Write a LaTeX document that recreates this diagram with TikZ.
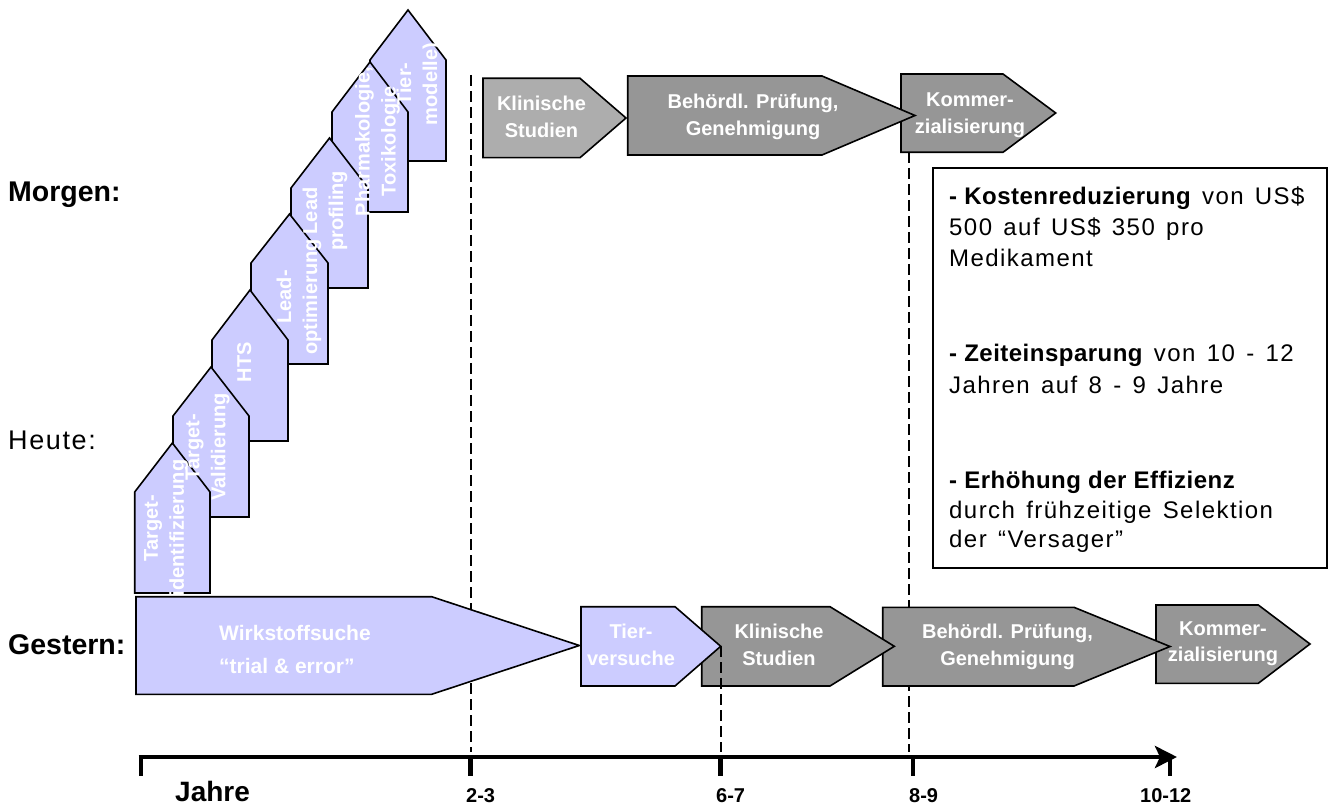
\documentclass[tikz,border=0pt]{standalone}
\usepackage{fontspec}
\setmainfont{Liberation Sans}
\newfontfamily\spacedsans[LetterSpace=6,WordSpace=1.4]{Liberation Sans}
\newfontfamily\lightspaced[LetterSpace=2]{Liberation Sans}
\usetikzlibrary{arrows.meta}

\definecolor{lilac}{HTML}{CCCCFF}
\definecolor{darkgrey}{HTML}{969696}
\definecolor{lightgrey}{HTML}{ADADAD}

\tikzset{
  outline/.style={draw=black, line width=1.6pt, line join=miter},
  bluearrow/.style={outline, fill=lilac},
  greyarrow/.style={outline, fill=darkgrey},
  palearrow/.style={outline, fill=lightgrey},
  vlabel/.style={rotate=90, align=center, text=white, inner sep=0pt,
    font=\fontsize{20}{26}\selectfont\bfseries},
  hlabel/.style={align=center, text=white, inner sep=0pt,
    font=\fontsize{20}{26.7}\selectfont\bfseries},
  guide/.style={black, line width=2pt, dash pattern=on 11pt off 5pt},
  rowlabel/.style={anchor=west, inner sep=0pt,
    font=\fontsize{28.5}{32}\selectfont\bfseries},
  ticklabel/.style={anchor=base west, inner sep=0pt,
    font=\fontsize{20}{24}\selectfont\bfseries},
  boxline/.style={anchor=base west, inner sep=0pt,
    font=\spacedsans\fontsize{24}{30}\selectfont},
  axisline/.style={black, line width=4.5pt},
}

\newcommand\houseshape[5]{%
  \path[bluearrow] (#1,#5) -- (#1,#4) -- ({(#1+#2)/2},#3) -- (#2,#4) -- (#2,#5) -- cycle;}
\newcommand\chevronshape[7]{%
  \path[#1] (#2,#3) -- (#5,#3) -- (#6,#7) -- (#5,#4) -- (#2,#4) -- cycle;}
\newcommand\bb[1]{{\lightspaced\bfseries #1}}

\begin{document}
\begin{tikzpicture}[x=1pt,y=-1pt]
\useasboundingbox (0,0) rectangle (1334,810);
\fill[white] (0,0) rectangle (1334,810);

% dashed guide lines behind the shapes
\coordinate (g1top) at (470.5,75);
\coordinate (g1bot) at (470.5,752);
\coordinate (g3top) at (908.5,152);
\coordinate (g3bot) at (908.5,752);
\draw[guide] (g1top) -- (g1bot);
\draw[guide] (g3top) -- (g3bot);

% "Morgen" staircase of upward arrows
\houseshape{370}{446}{10}{60}{161}
\houseshape{332}{408}{62}{112}{212}
\houseshape{291}{368}{138}{188}{288}
\houseshape{251}{328}{214}{263}{364}
\houseshape{212}{288}{290}{340}{441}
\houseshape{173}{249}{367}{416}{517}
\houseshape{134.7}{210}{443}{492}{593}

\node[vlabel] (tiermod) at (419,84) {Tier-\\modelle)};
\node[vlabel] (pharma) at (377.5,141.7) {Pharmakologie,\\Toxikologie};
\node[vlabel] (leadprof) at (325,211) {Lead\\profiling};
\node[vlabel] (leadopt) at (299,297) {Lead-\\optimierung};
\node[vlabel] (hts) at (244.3,362) {HTS};
\node[vlabel] (tval) at (207.5,447) {Target-\\Validierung};
\node[vlabel] (tident) at (166,528) {Target-\\identifizierung};

% top row (Morgen)
\chevronshape{greyarrow}{901}{74}{152.3}{1003}{1055.7}{113}
\chevronshape{palearrow}{483}{78.3}{157.7}{580}{626}{118}
\chevronshape{greyarrow}{627.7}{76}{155}{822}{915}{115.5}

\node[hlabel] (klin1) at (541.5,117) {Klinische\\Studien};
\node[hlabel] (beh1) at (753,117) {Behördl. Prüfung,\\Genehmigung};
\node[hlabel] (kom1) at (970,115) {Kommer-\\zialisierung};

% bottom row (Gestern)
\chevronshape{bluearrow}{136}{596.7}{694.3}{431.7}{579.3}{645.5}
\chevronshape{greyarrow}{1156}{605}{683.3}{1258.3}{1310}{644}
\chevronshape{greyarrow}{882.7}{607.3}{686}{1074}{1170}{646.5}
\chevronshape{greyarrow}{701.7}{606.7}{686}{830}{894.3}{646.3}
\chevronshape{bluearrow}{581}{606.7}{686}{675}{720.7}{646.3}

\node[hlabel, align=left, anchor=west, font=\fontsize{21}{33}\selectfont\bfseries]
  (wirk) at (219,649) {Wirkstoffsuche\\“trial \& error”};
\node[hlabel] (tier) at (631,645) {Tier-\\versuche};
\node[hlabel] (klin2) at (779,645) {Klinische\\Studien};
\node[hlabel] (beh2) at (1007.5,647) {Behördl. Prüfung,\\Genehmigung};
\node[hlabel] (kom2) at (1223,643.7) {Kommer-\\zialisierung};

% dashed guide on top of the Klinische box
\coordinate (g2top) at (720.5,646.3);
\coordinate (g2bot) at (720.5,752);
\draw[guide] (g2top) -- (g2bot);

% time axis
\coordinate (axstart) at (138.7,757);
\coordinate (axend) at (1177,757);
\draw[axisline, -{Stealth[length=22pt,width=22pt,inset=5pt]}] (axstart) -- (axend);
\foreach \tx in {140.9,470.5,720.6,913,1170}
  \draw[axisline] (\tx,755) -- (\tx,776);

\node[anchor=base west, inner sep=0pt, font=\fontsize{28}{32}\selectfont\bfseries]
  (jahre) at (175,801.5) {Jahre};
\node[ticklabel] (t23) at (466,802) {2-3};
\node[ticklabel] (t67) at (716,802) {6-7};
\node[ticklabel] (t89) at (909,802) {8-9};
\node[ticklabel] (t1012) at (1140,802) {10-12};

% benefits box
\node[draw=black, line width=2pt, fill=white, anchor=north west, inner sep=0pt,
  minimum width=394pt, minimum height=399.5pt] (benefits) at (931.7,167.3) {};
\node[boxline] (b1) at (949,205) {\bb{- Kostenreduzierung} von US\$};
\node[boxline] (b2) at (949,236) {500 auf US\$ 350 pro};
\node[boxline] (b3) at (949,267) {Medikament};
\node[boxline] (b4) at (949,362) {\bb{- Zeiteinsparung} von 10 - 12};
\node[boxline] (b5) at (949,393) {Jahren auf 8 - 9 Jahre};
\node[boxline] (b6) at (949,488) {\bb{- Erhöhung der Effizienz}};
\node[boxline] (b7) at (949,518) {durch frühzeitige Selektion};
\node[boxline] (b8) at (949,547) {der “Versager”};

% row labels
\node[rowlabel] (morgen) at (8,195) {Morgen:};
\node[rowlabel, font=\spacedsans\fontsize{27}{30}\selectfont] (heute) at (8,440) {Heute:};
\node[rowlabel] (gestern) at (8,645) {Gestern:};
\end{tikzpicture}
\end{document}
